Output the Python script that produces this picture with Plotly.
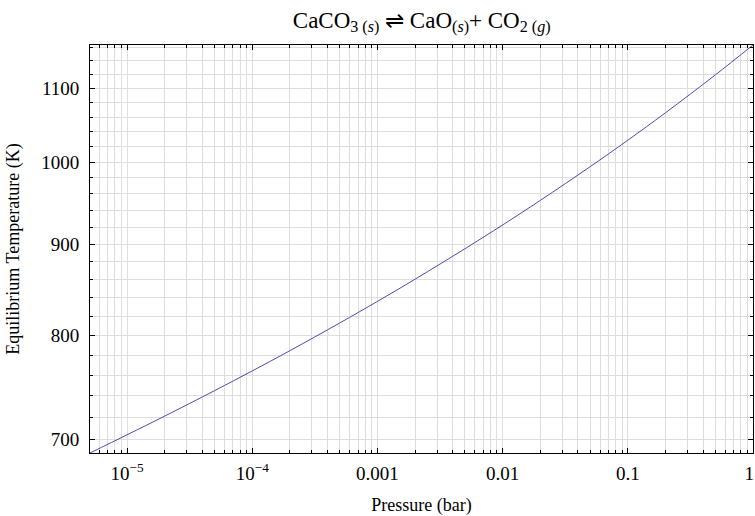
import numpy as np
import plotly.graph_objects as go

# Data
pressure_bar = [5.06e-6, 1e-5, 2e-5, 5e-5, 1e-4, 2e-4, 5e-4, 1e-3, 2e-3, 5e-3,
                0.01, 0.02, 0.05, 0.1, 0.2, 0.5, 1.0]
temperature_K = [687.6, 703.9, 721.1, 745.1, 764.3, 784.5, 813.0, 835.9, 860.2, 894.6,
                 922.4, 952.1, 994.3, 1028.8, 1065.9, 1119.1, 1163.1]

x_tick_vals = [1e-5, 1e-4, 1e-3, 1e-2, 1e-1, 1]
x_tick_text = ["10<sup>\u22125</sup>", "10<sup>\u22124</sup>", "0.001", "0.01", "0.1", "1\u2009\u2009"]
y_tick_vals = [700, 800, 900, 1000, 1100]
y_tick_text = ["700", "800", "900", "1000", "1100"]

x_minor = [m * 10.0 ** e for e in range(-6, 1) for m in range(1, 10)]
x_minor = [v for v in x_minor if 5e-6 <= v <= 1.0]
y_minor = list(range(700, 1170, 20))

FONT = "Liberation Serif, Times New Roman, serif"
GRID = "#dedede"

fig = go.Figure()
fig.add_trace(go.Scatter(x=pressure_bar, y=temperature_K, mode="lines",
                         line=dict(color="rgb(75,75,180)", width=1, shape="spline"),
                         showlegend=False))

fig.update_layout(
    width=755, height=516,
    margin=dict(l=90, r=2, t=45, b=63, autoexpand=False),
    paper_bgcolor="white", plot_bgcolor="white",
    font=dict(family=FONT, size=17, color="black"),
    title=dict(text="CaCO<sub>3 (<i>s</i>)</sub> \u21cc CaO<sub>(<i>s</i>)</sub>+ CO<sub>2 (<i>g</i>)</sub>",
               x=0.5585, xanchor="center", y=0.962, yanchor="middle",
               font=dict(family=FONT, size=23)),
)

fig.update_xaxes(
    type="log", range=[np.log10(5.06e-6), 0], automargin=False,
    tickmode="array", tickvals=x_tick_vals, ticktext=x_tick_text,
    ticks="inside", ticklen=5, tickcolor="black", tickwidth=1,
    showline=True, linecolor="black", linewidth=1, mirror="ticks",
    showgrid=True, gridcolor=GRID, gridwidth=1, zeroline=False,
    minor=dict(tickmode="array", tickvals=x_minor, ticks="inside", ticklen=3,
               tickcolor="black", showgrid=True, gridcolor=GRID, gridwidth=1),
    title=dict(text="Pressure (bar)", font=dict(family=FONT, size=18), standoff=20),
    tickfont=dict(family=FONT, size=19), ticklabelstandoff=3,
    ticklabeloverflow="allow",
)
fig.update_yaxes(
    type="log", range=[np.log10(687.6), np.log10(1163.1)], automargin=False,
    tickmode="array", tickvals=y_tick_vals, ticktext=y_tick_text,
    ticks="inside", ticklen=5, tickcolor="black", tickwidth=1,
    showline=True, linecolor="black", linewidth=1, mirror="ticks",
    showgrid=True, gridcolor=GRID, gridwidth=1, zeroline=False,
    minor=dict(tickmode="array", tickvals=y_minor, ticks="inside", ticklen=3,
               tickcolor="black", showgrid=True, gridcolor=GRID, gridwidth=1),
    title=dict(text="Equilibrium Temperature (K)", font=dict(family=FONT, size=18), standoff=16),
    tickfont=dict(family=FONT, size=19), ticklabelstandoff=6,
)

fig.write_html("out.html", config={"displayModeBar": False},
               post_script="document.body.style.margin='0';")
